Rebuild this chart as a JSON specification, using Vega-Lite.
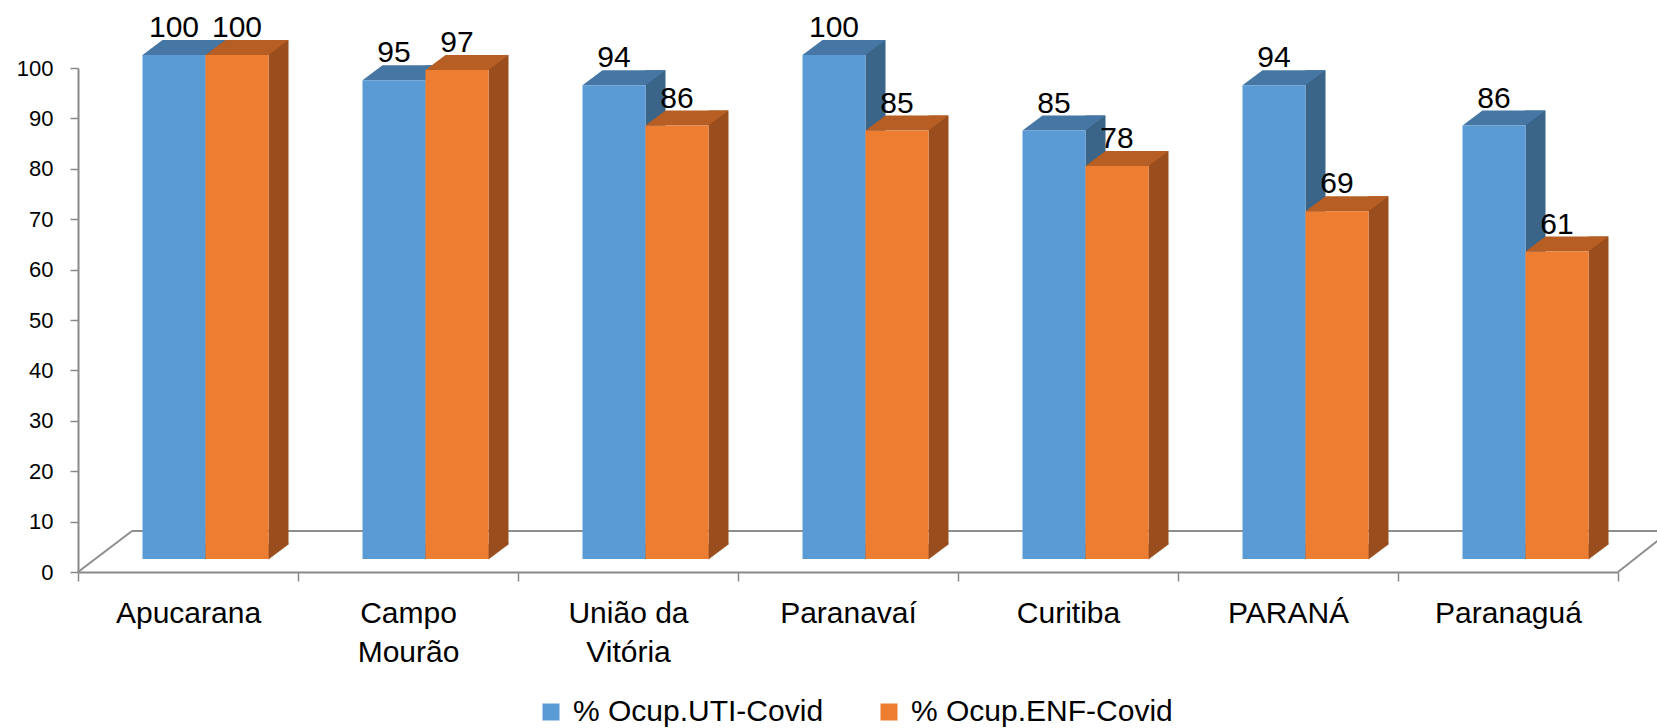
{
  "$schema": "https://vega.github.io/schema/vega-lite/v6.json",
  "width": 1540,
  "height": 504,
  "autosize": {"type": "none"},
  "padding": {"left": 78, "top": 68, "right": 39, "bottom": 156},
  "background": "white",
  "config": {"view": {"stroke": null}, "font": "Liberation Sans"},
  "datasets": {
    "floor": [{"start": "Apucarana", "end": "Paranaguá", "base": 0}]
  },
  "data": {"values": [
    {"region": "Apucarana", "serie": "% Ocup.UTI-Covid", "valor": 100},
    {"region": "Apucarana", "serie": "% Ocup.ENF-Covid", "valor": 100},
    {"region": "Campo Mourão", "serie": "% Ocup.UTI-Covid", "valor": 95},
    {"region": "Campo Mourão", "serie": "% Ocup.ENF-Covid", "valor": 97},
    {"region": "União da Vitória", "serie": "% Ocup.UTI-Covid", "valor": 94},
    {"region": "União da Vitória", "serie": "% Ocup.ENF-Covid", "valor": 86},
    {"region": "Paranavaí", "serie": "% Ocup.UTI-Covid", "valor": 100},
    {"region": "Paranavaí", "serie": "% Ocup.ENF-Covid", "valor": 85},
    {"region": "Curitiba", "serie": "% Ocup.UTI-Covid", "valor": 85},
    {"region": "Curitiba", "serie": "% Ocup.ENF-Covid", "valor": 78},
    {"region": "PARANÁ", "serie": "% Ocup.UTI-Covid", "valor": 94},
    {"region": "PARANÁ", "serie": "% Ocup.ENF-Covid", "valor": 69},
    {"region": "Paranaguá", "serie": "% Ocup.UTI-Covid", "valor": 86},
    {"region": "Paranaguá", "serie": "% Ocup.ENF-Covid", "valor": 61}
  ]},
  "encoding": {
    "x": {
      "field": "region", "type": "nominal",
      "scale": {"domain": ["Apucarana", "Campo Mourão", "União da Vitória", "Paranavaí", "Curitiba", "PARANÁ", "Paranaguá"], "paddingInner": 0, "paddingOuter": 0},
      "axis": {
        "title": null, "labelAngle": 0, "tickBand": "extent",
        "domainColor": "#898989", "domainWidth": 2, "tickColor": "#898989", "tickWidth": 1.5, "tickSize": 9,
        "labelFontSize": 30, "labelColor": "#000000", "labelFont": "Liberation Sans", "labelPadding": 17, "labelBaseline": "top", "labelLineHeight": 39,
        "labelExpr": "datum.label == 'Campo Mourão' ? ['Campo', 'Mourão'] : datum.label == 'União da Vitória' ? ['União da', 'Vitória'] : datum.label"
      }
    },
    "y": {
      "field": "valor", "type": "quantitative",
      "scale": {"domain": [0, 100], "nice": false},
      "axis": {
        "title": null, "grid": false, "values": [0, 10, 20, 30, 40, 50, 60, 70, 80, 90, 100],
        "domainColor": "#898989", "domainWidth": 2, "tickColor": "#898989", "tickWidth": 1.5, "tickSize": 8,
        "labelFontSize": 22, "labelColor": "#000000", "labelFont": "Liberation Sans", "labelPadding": 17
      }
    }
  },
  "layer": [
    {
      "data": {"name": "floor"},
      "mark": {"type": "rule", "color": "#8E8E8E", "strokeWidth": 2, "xOffset": -56, "x2Offset": 162, "yOffset": -41},
      "encoding": {"x": {"field": "start", "type": "nominal"}, "x2": {"field": "end"}, "y": {"field": "base", "type": "quantitative"}}
    },
    {
      "data": {"name": "floor"},
      "mark": {"type": "rule", "color": "#8E8E8E", "strokeWidth": 2, "xOffset": -110, "x2Offset": -56, "yOffset": 0, "y2Offset": -41},
      "encoding": {"x": {"field": "start", "type": "nominal"}, "x2": {"field": "start"}, "y": {"field": "base", "type": "quantitative"}, "y2": {"field": "base"}}
    },
    {
      "data": {"name": "floor"},
      "mark": {"type": "rule", "color": "#8E8E8E", "strokeWidth": 2, "xOffset": 110, "x2Offset": 162, "yOffset": 0, "y2Offset": -41},
      "encoding": {"x": {"field": "end", "type": "nominal"}, "x2": {"field": "end"}, "y": {"field": "base", "type": "quantitative"}, "y2": {"field": "base"}}
    },
    {
      "transform": [{"filter": "datum.serie == '% Ocup.UTI-Covid'"}],
      "mark": {"type": "bar", "color": "#3A6488", "width": 20, "xOffset": 27.5, "yOffset": -28, "y2Offset": -28}
    },
    {
      "transform": [{"filter": "datum.serie == '% Ocup.UTI-Covid'"}],
      "mark": {"type": "point", "shape": "M31.5,-15L31.5,0L51.5,-15Z", "size": 4, "filled": true, "opacity": 1, "color": "#3A6488", "stroke": "#3A6488", "strokeWidth": 0.8, "xOffset": -14, "yOffset": -13},
      "encoding": {"y": {"datum": 0}}
    },
    {
      "transform": [{"filter": "datum.serie == '% Ocup.UTI-Covid'"}],
      "mark": {"type": "point", "shape": "M-31.5,0L31.5,0L51.5,-15L-11.5,-15Z", "size": 4, "filled": true, "opacity": 1, "color": "#4677A4", "strokeWidth": 0, "xOffset": -14, "yOffset": -13}
    },
    {
      "transform": [{"filter": "datum.serie == '% Ocup.UTI-Covid'"}],
      "mark": {"type": "bar", "width": 63, "xOffset": -14, "yOffset": -13, "y2Offset": -13},
      "encoding": {
        "color": {
          "field": "serie", "type": "nominal",
          "scale": {"domain": ["% Ocup.UTI-Covid", "% Ocup.ENF-Covid"], "range": ["#5B9BD5", "#ED7D31"]},
          "legend": {"title": null, "orient": "none", "direction": "horizontal", "legendX": 458, "legendY": 629, "padding": 0, "labelLimit": 0,
            "symbolType": "square", "symbolSize": 289, "symbolStrokeWidth": 0, "labelFontSize": 30, "labelColor": "#000000", "labelFont": "Liberation Sans", "labelOffset": 7, "columnPadding": 50}
        }
      }
    },
    {
      "transform": [{"filter": "datum.serie == '% Ocup.ENF-Covid'"}],
      "mark": {"type": "bar", "color": "#9A4E1E", "width": 20, "xOffset": 90.5, "yOffset": -28, "y2Offset": -28}
    },
    {
      "transform": [{"filter": "datum.serie == '% Ocup.ENF-Covid'"}],
      "mark": {"type": "point", "shape": "M31.5,-15L31.5,0L51.5,-15Z", "size": 4, "filled": true, "opacity": 1, "color": "#9A4E1E", "stroke": "#9A4E1E", "strokeWidth": 0.8, "xOffset": 49, "yOffset": -13},
      "encoding": {"y": {"datum": 0}}
    },
    {
      "transform": [{"filter": "datum.serie == '% Ocup.ENF-Covid'"}],
      "mark": {"type": "point", "shape": "M-31.5,0L31.5,0L51.5,-15L-11.5,-15Z", "size": 4, "filled": true, "opacity": 1, "color": "#B65E23", "strokeWidth": 0, "xOffset": 49, "yOffset": -13}
    },
    {
      "transform": [{"filter": "datum.serie == '% Ocup.ENF-Covid'"}],
      "mark": {"type": "bar", "width": 63, "xOffset": 49, "yOffset": -13, "y2Offset": -13},
      "encoding": {
        "color": {
          "field": "serie", "type": "nominal",
          "scale": {"domain": ["% Ocup.UTI-Covid", "% Ocup.ENF-Covid"], "range": ["#5B9BD5", "#ED7D31"]},
          "legend": {"title": null, "orient": "none", "direction": "horizontal", "legendX": 458, "legendY": 629, "padding": 0, "labelLimit": 0,
            "symbolType": "square", "symbolSize": 289, "symbolStrokeWidth": 0, "labelFontSize": 30, "labelColor": "#000000", "labelFont": "Liberation Sans", "labelOffset": 7, "columnPadding": 50}
        }
      }
    },
    {
      "transform": [{"filter": "datum.serie == '% Ocup.UTI-Covid'"}],
      "mark": {"type": "text", "fontSize": 30, "font": "Liberation Sans", "color": "#000000", "baseline": "alphabetic", "align": "center", "xOffset": -14, "dy": -31},
      "encoding": {"text": {"field": "valor", "type": "quantitative"}}
    },
    {
      "transform": [{"filter": "datum.serie == '% Ocup.ENF-Covid'"}],
      "mark": {"type": "text", "fontSize": 30, "font": "Liberation Sans", "color": "#000000", "baseline": "alphabetic", "align": "center", "xOffset": 49, "dy": -31},
      "encoding": {"text": {"field": "valor", "type": "quantitative"}}
    }
  ]
}
